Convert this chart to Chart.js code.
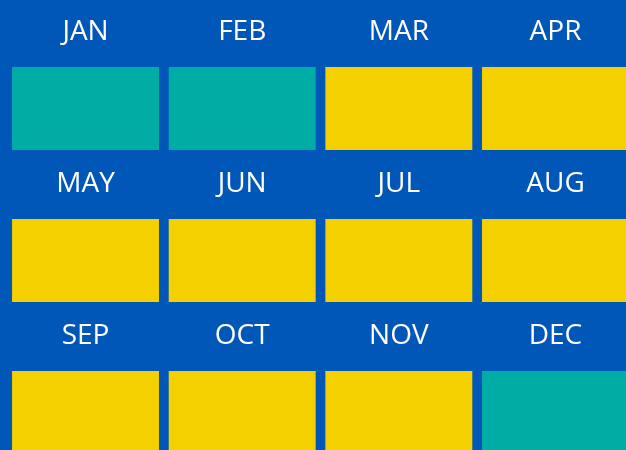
<!DOCTYPE html>
<html lang="en">
<head>
  <meta charset="UTF-8">
  <title>Monthly Status</title>
  <script src="https://cdn.jsdelivr.net/npm/chart.js"></script>
  <style>
    html, body { margin: 0; padding: 0; background: #0057b7; overflow: hidden; }
    canvas { display: block; }
  </style>
</head>
<body>
  <canvas id="monthGrid" width="626" height="450"></canvas>

  <script>
    // Months in reading order, 4 per row
    const months = ['JAN', 'FEB', 'MAR', 'APR', 'MAY', 'JUN', 'JUL', 'AUG', 'SEP', 'OCT', 'NOV', 'DEC'];
    // 1 = teal, 0 = yellow
    const status = [1, 1, 0, 0, 0, 0, 0, 0, 0, 0, 0, 1];
    const perRow = 4;

    const TEAL = '#00ada5';
    const YELLOW = '#f5d000';

    // each cell: column index on x, row band on y (label on top, block below)
    const cells = months.map((m, i) => {
      const row = Math.floor(i / perRow);
      return { x: i % perRow, y: [row + 0.441, row + 0.987] };
    });

    const monthLabels = {
      id: 'monthLabels',
      afterDatasetsDraw(chart) {
        const { ctx, scales: { x, y } } = chart;
        ctx.save();
        ctx.fillStyle = '#ffffff';
        ctx.font = '28px "Open Sans"';
        ctx.textAlign = 'center';
        ctx.textBaseline = 'alphabetic';
        months.forEach((m, i) => {
          const row = Math.floor(i / perRow);
          ctx.fillText(m, x.getPixelForValue(i % perRow), y.getPixelForValue(row + 0.263));
        });
        ctx.restore();
      }
    };

    new Chart(document.getElementById('monthGrid'), {
      type: 'bar',
      data: {
        datasets: [{
          data: cells,
          backgroundColor: status.map(s => s ? TEAL : YELLOW),
          borderWidth: 0,
          barPercentage: 0.938,
          categoryPercentage: 1
        }]
      },
      options: {
        responsive: false,
        animation: false,
        layout: { padding: 0 },
        scales: {
          x: {
            type: 'linear', min: -0.546, max: 3.45, offset: false, display: false,
            ticks: { stepSize: 1, includeBounds: false }
          },
          y: { type: 'linear', min: 0, max: 2.961, reverse: true, display: false }
        },
        plugins: {
          legend: { display: false },
          tooltip: { enabled: false }
        }
      },
      plugins: [monthLabels]
    });
  </script>
</body>
</html>
